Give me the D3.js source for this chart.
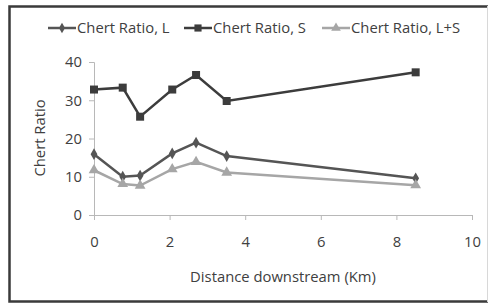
<!DOCTYPE html>
<html>
<head>
<meta charset="utf-8">
<script src="https://cdn.jsdelivr.net/npm/d3@7"></script>
<style>
  body { margin: 0; background: #fff; }
  text { font-family: "Open Sans", sans-serif; }
</style>
</head>
<body>
<div id="chart"></div>
<script>
// data
var distance = [0, 0.76, 1.22, 2.07, 2.7, 3.51, 8.51];
var ratioL = [15.9, 10.0, 10.3, 16.1, 18.9, 15.4, 9.6];
var ratioS = [32.8, 33.3, 25.7, 32.8, 36.6, 29.8, 37.3];
var ratioLS = [11.7, 8.1, 7.7, 12.0, 13.9, 11.1, 7.8];
var seriesNames = ["Chert Ratio, L", "Chert Ratio, S", "Chert Ratio, L+S"];
var xTicks = [0, 2, 4, 6, 8, 10];
var yTicks = [0, 10, 20, 30, 40];

var svgWidth = 490;
var svgHeight = 303;
var fontSize = "14.8px";

var chartMargin = {
    top: 62,
    right: 18,
    bottom: 88,
    left: 94
}

var chartWidth = 472 - chartMargin.left;
var chartHeight = 215 - chartMargin.top;

var svg = d3.select("#chart")
            .append("svg")
            .attr("width", svgWidth)
            .attr("height", svgHeight);

// outer frame
svg.append("path")
   .attr("d", "M488,6.5 H9.5 V301.5 H488")
   .attr("fill", "none")
   .attr("stroke", "#3a3a3a")
   .attr("stroke-width", 2.5);
svg.append("line")
   .attr("x1", 487.5).attr("x2", 487.5)
   .attr("y1", 6).attr("y2", 302)
   .attr("stroke", "#d8d8d8");

var chartGroup = svg.append("g")
                    .attr("transform", `translate(${chartMargin.left}, ${chartMargin.top})`);

var xScale = d3.scaleLinear().domain([0, 10]).range([0, chartWidth]);
var yScale = d3.scaleLinear().domain([0, 40]).range([chartHeight, 0]);

var xAxis = d3.axisBottom(xScale).tickValues(xTicks).tickSizeOuter(0).tickSize(5).tickPadding(16);
var yAxis = d3.axisLeft(yScale).tickValues(yTicks).tickSizeOuter(0).tickSize(5).tickPadding(7);

var gx = chartGroup.append("g")
          .attr("transform", `translate(0, ${chartHeight})`)
          .call(xAxis);
var gy = chartGroup.append("g").call(yAxis);

[gx, gy].forEach(function(g) {
    g.selectAll("path, line").attr("stroke", "#b8b8b8");
    g.selectAll("text").attr("fill", "#404040").style("font-size", fontSize);
});

// axis titles
svg.append("text")
   .attr("x", 283).attr("y", 282)
   .attr("text-anchor", "middle")
   .attr("fill", "#404040")
   .style("font-size", fontSize)
   .text("Distance downstream (Km)");
svg.append("text")
   .attr("transform", "translate(45, 138) rotate(-90)")
   .attr("text-anchor", "middle")
   .attr("fill", "#404040")
   .style("font-size", fontSize)
   .text("Chert Ratio");

var series = [
    { name: seriesNames[0], values: ratioL, color: "#555555", shape: d3.symbolDiamond, size: 40 },
    { name: seriesNames[1], values: ratioS, color: "#3c3c3c", shape: d3.symbolSquare, size: 64 },
    { name: seriesNames[2], values: ratioLS, color: "#a6a6a6", shape: d3.symbolTriangle, size: 50 }
];

var line = d3.line()
             .x(function(d) { return xScale(d[0]); })
             .y(function(d) { return yScale(d[1]); });

series.forEach(function(s) {
    var pts = distance.map(function(x, i) { return [x, s.values[i]]; });
    chartGroup.append("path")
              .datum(pts)
              .attr("d", line)
              .attr("fill", "none")
              .attr("stroke", s.color)
              .attr("stroke-width", 2.5);
    chartGroup.selectAll(null)
              .data(pts)
              .enter()
              .append("path")
              .attr("d", d3.symbol().type(s.shape).size(s.size))
              .attr("transform", function(d) { return `translate(${xScale(d[0])}, ${yScale(d[1])})`; })
              .attr("fill", s.color);
});

// legend
var legendX = [48, 184, 322];
series.forEach(function(s, i) {
    var g = svg.append("g").attr("transform", `translate(${legendX[i]}, 28)`);
    g.append("line").attr("x1", 0).attr("x2", 28).attr("stroke", s.color).attr("stroke-width", 2.5);
    g.append("path")
     .attr("d", d3.symbol().type(s.shape).size(s.size * 0.8))
     .attr("transform", "translate(14, 0)")
     .attr("fill", s.color);
    g.append("text")
     .attr("x", 29).attr("y", 5)
     .attr("fill", "#404040")
     .style("font-size", fontSize)
     .text(s.name);
});
</script>
</body>
</html>
